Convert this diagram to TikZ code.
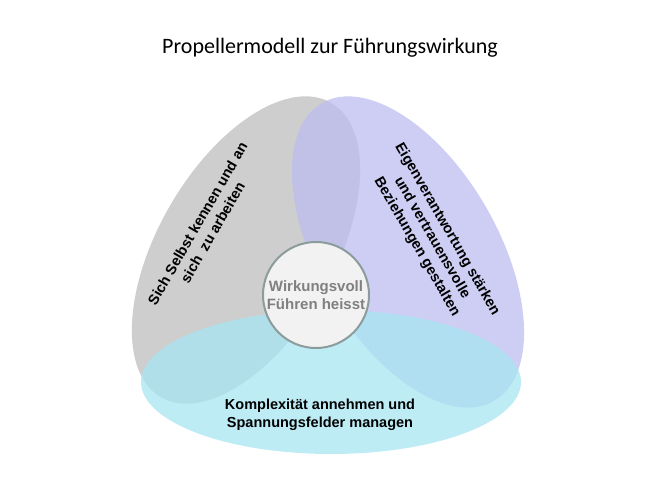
\documentclass[tikz,border=0pt]{standalone}
\usepackage{fontspec}
\setmainfont{Liberation Sans}
\newfontfamily\titlefont{Carlito}
\definecolor{bladegray}{HTML}{BDBDBD}
\definecolor{bladelav}{HTML}{BDBDF0}
\definecolor{bladecyan}{HTML}{A8E6F2}
\definecolor{hubline}{HTML}{8C9C9C}
\begin{document}
\begin{tikzpicture}[x=1pt,y=-1pt,
blade/.style={fill opacity=0.75,draw=none},
bladetext/.style={font=\bfseries\fontsize{14.5}{17.5}\selectfont,align=center,text=black},
hub/.style={draw=hubline,line width=2pt,circle,fill=gray!10,minimum size=106pt,inner sep=0pt,
  font=\bfseries\fontsize{15}{18}\selectfont,text=gray,align=center}]
\useasboundingbox (0,0) rectangle (660,500);

\node[font=\titlefont\fontsize{22}{26}\selectfont] (title) at (330,48) {Propellermodell zur Führungswirkung};

\fill[blade,bladegray] (246,250) ellipse[x radius=170,y radius=88,rotate=60];
\fill[blade,bladelav] (408,252) ellipse[x radius=172,y radius=90,rotate=-60];
\fill[blade,bladecyan] (331,382) ellipse[x radius=190,y radius=72];

\node[hub] (hub) at (316,295) {Wirkungsvoll\\Führen heisst};

\node[bladetext,rotate=60] (left) at (205,228) {Sich Selbst kennen und an\\sich\ \ zu arbeiten};
\node[bladetext,rotate=-60] (right) at (432,238) {Eigenverantwortung stärken\\und vertrauensvolle\\Beziehungen gestalten};
\node[bladetext] (bottom) at (320,415) {Komplexität annehmen und\\Spannungsfelder managen};

\end{tikzpicture}
\end{document}
